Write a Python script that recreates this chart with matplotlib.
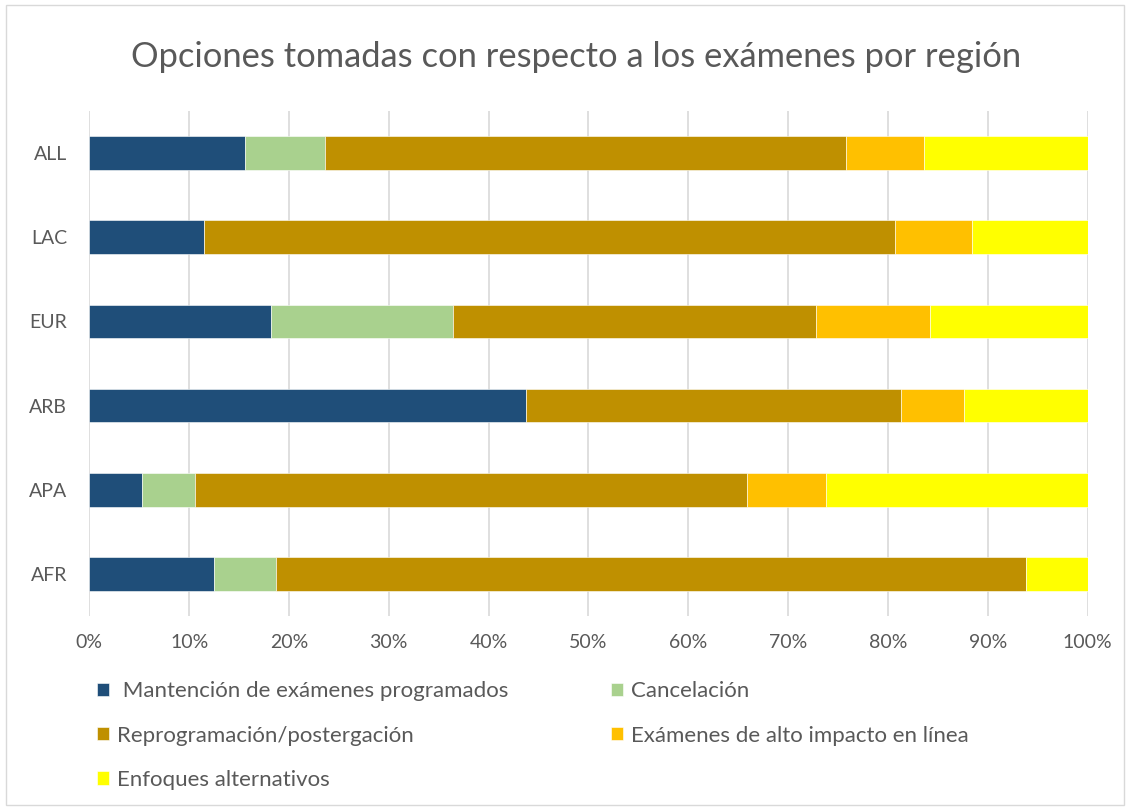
import matplotlib.pyplot as plt
from matplotlib.patches import Rectangle

# Datos (porcentajes)
regiones = ['AFR', 'APA', 'ARB', 'EUR', 'LAC', 'ALL']
mantencion = [12.5, 5.3, 43.7, 18.2, 11.5, 15.6]
cancelacion = [6.2, 5.3, 0.0, 18.2, 0.0, 8.0]
reprogramacion = [75.1, 55.3, 37.6, 36.4, 69.2, 52.2]
en_linea = [0.0, 7.9, 6.3, 11.4, 7.7, 7.8]
alternativos = [6.2, 26.2, 12.4, 15.8, 11.6, 16.4]

series = [
    (' Mantención de exámenes programados', mantencion, '#1F4E79'),
    ('Cancelación', cancelacion, '#A9D18E'),
    ('Reprogramación/postergación', reprogramacion, '#BF9000'),
    ('Exámenes de alto impacto en línea', en_linea, '#FFC000'),
    ('Enfoques alternativos', alternativos, '#FFFF00'),
]

plt.rcParams['font.family'] = ['Lato', 'DejaVu Sans']
gris = '#595959'

fig = plt.figure(figsize=(11.3, 8.09), dpi=100)
ax = fig.add_axes([89.3 / 1130, 1 - 616 / 809, (1087.5 - 89.3) / 1130, 505 / 809])

# Barras apiladas
izquierda = [0.0] * len(regiones)
barras = {}
for nombre, valores, color in series:
    b = ax.barh(regiones, valores, left=izquierda, height=0.40, color=color,
                edgecolor='white', linewidth=0.4, zorder=3)
    barras[nombre] = b
    izquierda = [i + v for i, v in zip(izquierda, valores)]

ax.set_xlim(0, 100)
ax.set_ylim(-0.5, len(regiones) - 0.5)
ax.set_xticks(range(0, 101, 10))
ax.set_xticklabels([f'{t}%' for t in range(0, 101, 10)])
ax.tick_params(axis='both', length=0, labelsize=14, colors=gris)
ax.tick_params(axis='x', pad=13)
ax.tick_params(axis='y', pad=16)
ax.grid(axis='x', color='#D9D9D9', linewidth=1.2, zorder=0)
for s in ax.spines.values():
    s.set_visible(False)

fig.text(576 / 1130, 1 - 57 / 809, 'Opciones tomadas con respecto a los exámenes por región',
         ha='center', va='center', fontsize=24.8, color=gris)

# Leyenda: orden por columnas para que quede como en el original
orden = [0, 2, 4, 1, 3]
handles = [barras[series[i][0]] for i in orden]
labels = [series[i][0] for i in orden]
fig.legend(handles, labels, loc='upper left', bbox_to_anchor=(86 / 1130, 1 - 670 / 809),
           ncol=2, frameon=False, fontsize=16, labelcolor=gris, borderpad=0,
           handlelength=0.55, handleheight=0.55, handletextpad=0.35,
           columnspacing=4.6, labelspacing=1.1)

# Borde del área del gráfico
fig.patches.append(Rectangle((6 / 1130, 4 / 809), 1118 / 1130, 800 / 809,
                             transform=fig.transFigure, fill=False,
                             edgecolor='#D9D9D9', linewidth=1.0))

fig.savefig('out.png', dpi=100)
